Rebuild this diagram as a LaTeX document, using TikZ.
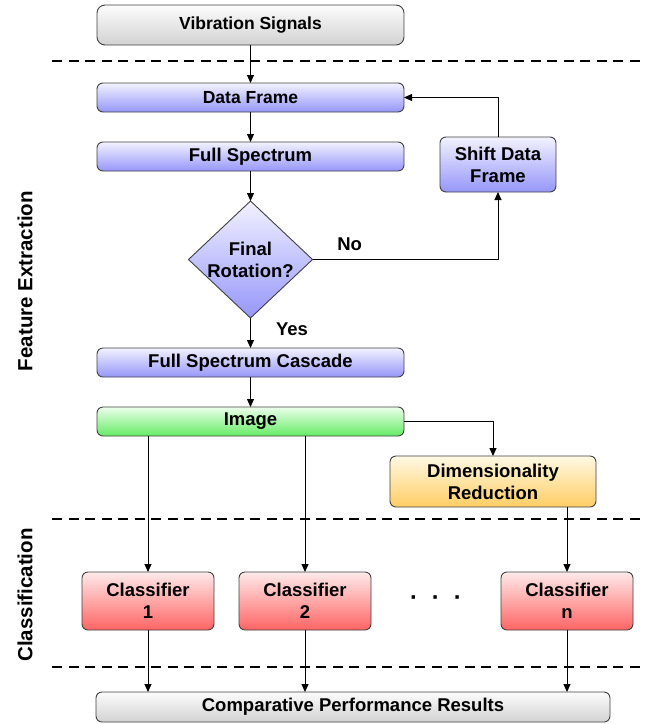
\documentclass[tikz,border=0pt]{standalone}
\usepackage{fontspec}
\setmainfont{Liberation Sans}
\usetikzlibrary{shapes.geometric, arrows.meta, positioning, calc}

\definecolor{greytop}{RGB}{252,252,252}
\definecolor{greybot}{RGB}{210,210,210}
\definecolor{bluetop}{RGB}{242,242,255}
\definecolor{bluebot}{RGB}{150,150,250}
\definecolor{greentop}{RGB}{236,255,236}
\definecolor{greenbot}{RGB}{100,235,100}
\definecolor{orangetop}{RGB}{255,249,228}
\definecolor{orangebot}{RGB}{255,205,100}
\definecolor{redtop}{RGB}{255,234,234}
\definecolor{redbot}{RGB}{255,100,100}

\begin{document}
\begin{tikzpicture}[
	  x=1pt, y=1pt,
	  node distance=30pt,
	  box/.style={rectangle, rounded corners=6pt, draw=black!75, line width=0.9pt, text centered, align=center, inner sep=0pt, outer sep=0pt, font=\fontsize{18.5}{22}\selectfont\bfseries},
	  bar/.style={box, minimum width=307pt, minimum height=29pt},
	  greybox/.style={box, top color=greytop, bottom color=greybot},
	  bluebox/.style={box, top color=bluetop, bottom color=bluebot},
	  greenbox/.style={box, top color=greentop, bottom color=greenbot},
	  orangebox/.style={box, top color=orangetop, bottom color=orangebot},
	  clsbox/.style={box, top color=redtop, bottom color=redbot, minimum width=132pt, minimum height=58pt},
	  decision/.style={diamond, aspect=1.06, minimum width=124pt, minimum height=117pt, inner sep=0pt, outer sep=0pt, draw=black!75, line width=0.9pt, top color=bluetop, bottom color=bluebot, align=center, font=\fontsize{18.5}{22}\selectfont\bfseries},
	  lbl/.style={inner sep=0pt, font=\fontsize{18.5}{22}\selectfont\bfseries},
	  phase/.style={inner sep=0pt, rotate=90, font=\fontsize{20.5}{24}\selectfont\bfseries},
	  sep/.style={line width=2pt, dash pattern=on 10pt off 6.5pt},
	  arrow/.style={line width=1pt, -{Triangle[width=7pt, length=8pt]}}
	]
	\useasboundingbox (0,0) rectangle (660,-724);

	\node (vib) [greybox, minimum width=307pt, minimum height=40pt, rounded corners=8pt, font=\fontsize{17.5}{22}\selectfont\bfseries] at (250.5,-25) {Vibration Signals};
	\node (frame) [bluebox, bar, below=38pt of vib, font=\fontsize{17.5}{22}\selectfont\bfseries] {Data Frame};
	\node (spec) [bluebox, bar, below=of frame] {Full Spectrum};
	\node (rot) [decision, below=of spec] {Final\\Rotation?};
	\node (casc) [bluebox, bar, below=of rot] {Full Spectrum Cascade};
	\node (img) [greenbox, bar, below=of casc] {Image};
	\node (shift) [bluebox, minimum width=116pt, minimum height=55pt, right=36pt of spec, yshift=-8pt] {Shift Data\\Frame};
	\node (dimred) [orangebox, minimum width=206pt, minimum height=51pt, below=20pt of img.south east, xshift=89pt] {Dimensionality\\Reduction};
	\node (cls1) [clsbox, below=136pt of img.south west, xshift=51pt] {Classifier\\1};
	\node (cls2) [clsbox, right=25pt of cls1] {Classifier\\2};
	\node (clsn) [clsbox, right=130pt of cls2] {Classifier\\n};
	\node (dots) [lbl, font=\fontsize{24}{24}\selectfont\bfseries] at ($(cls2)!0.5!(clsn)$) {·\hspace{14pt}·\hspace{14pt}·};
	\node (results) [greybox, minimum width=514pt, minimum height=30pt, below=62pt of cls2, xshift=48pt] {Comparative Performance Results};

	\node (feat) [phase] at (25,-281) {Feature Extraction};
	\node (classif) [phase] at (25,-595) {Classification};

	% phase separators
	\draw [sep] (52,-61) -- (640,-61);
	\draw [sep] (52,-519) -- (640,-519);
	\draw [sep] (52,-667) -- (640,-667);

	\draw [arrow] (vib) -- (frame);
	\draw [arrow] (frame) -- (spec);
	\draw [arrow] (spec) -- (rot);
	\draw [arrow] (rot) -- node[lbl, anchor=west, xshift=25pt, yshift=4pt] {Yes} (casc);
	\draw [arrow] (rot.east) -| node[lbl, pos=0.1, anchor=south, yshift=8pt] {No} (shift.south);
	\draw [arrow] (shift.north) |- (frame.east);
	\draw [arrow] (casc) -- (img);
	\draw [arrow] (img.east) -| (dimred.north);
	\draw [arrow] (img.south -| cls1.north) -- (cls1);
	\draw [arrow] (img.south -| cls2.north) -- (cls2);
	\draw [arrow] (dimred.south -| clsn.north) -- (clsn);
	\foreach \c in {cls1, cls2, clsn}
	  \draw [arrow] (\c) -- (results.north -| \c);

\end{tikzpicture}
\end{document}
